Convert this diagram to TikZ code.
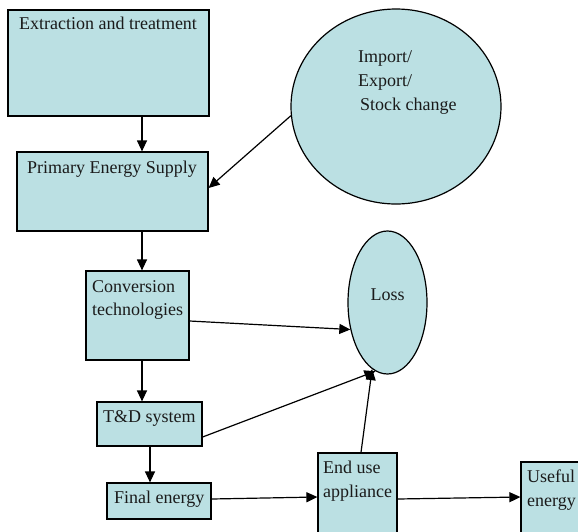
\documentclass[tikz,border=0pt]{standalone}
\usepackage{fontspec}
\setmainfont{Liberation Serif}
\usetikzlibrary{arrows.meta,shapes.geometric}
\definecolor{boxfill}{HTML}{BBE0E3}
\definecolor{txt}{HTML}{1A1A1A}
\tikzset{
  box/.style={draw=black, line width=1.2pt, fill=boxfill, rectangle, inner sep=0pt},
  oval/.style={draw=black, line width=1.2pt, fill=boxfill, ellipse, inner sep=0pt},
  lbl/.style={text=txt, inner sep=0pt, font=\fontsize{18}{22}\selectfont},
  conn/.style={line width=1.2pt, -{Triangle[length=11pt,width=10pt]}}
}
\begin{document}
\begin{tikzpicture}[x=1pt,y=-1pt]
\clip (0,0) rectangle (578,531);
\fill[white] (0,0) rectangle (578,531);
% boxes
\node[box, minimum width=201pt, minimum height=106pt] (ext) at (108.5,63) {};
\node[box, minimum width=191pt, minimum height=79pt] (pes) at (112.5,191.5) {};
\node[box, minimum width=103pt, minimum height=89pt] (conv) at (137.5,315.5) {};
\node[box, minimum width=105pt, minimum height=44pt] (td) at (149.5,424) {};
\node[box, minimum width=104pt, minimum height=36pt] (fin) at (159,501) {};
\node[box, minimum width=79pt, minimum height=92pt] (end) at (357.5,499) {};
\node[box, minimum width=89pt, minimum height=98pt] (use) at (565.5,511) {};
\node[oval, minimum width=210pt, minimum height=195pt] (imp) at (396,106.5) {};
\node[oval, minimum width=79pt, minimum height=143pt] (loss) at (387.5,302.5) {};
% texts
\node[lbl, anchor=base] (t1) at (108,29) {Extraction and treatment};
\node[lbl, anchor=base] (t2) at (112,173) {Primary Energy Supply};
\node[lbl, anchor=base west] (t3a) at (358,62) {Import/};
\node[lbl, anchor=base west] (t3b) at (358,86) {Export/};
\node[lbl, anchor=base west] (t3c) at (360,110) {Stock change};
\node[lbl, anchor=base west] (t4a) at (92,292) {Conversion};
\node[lbl, anchor=base west] (t4b) at (92,315) {technologies};
\node[lbl, anchor=base west] (t5) at (103,422) {T\&D system};
\node[lbl, anchor=base west] (t6) at (114,503) {Final energy};
\node[lbl, anchor=base] (t7) at (387.5,300) {Loss};
\node[lbl, anchor=base west] (t8a) at (323,473) {End use};
\node[lbl, anchor=base west] (t8b) at (323,497) {appliance};
\node[lbl, anchor=base west] (t9a) at (527,482) {Useful};
\node[lbl, anchor=base west] (t9b) at (527,506) {energy};
% connectors
\draw[conn] ([xshift=33.5pt]ext.south) -- ([xshift=29.5pt]pes.north);
\draw[conn] (imp.185) -- ([yshift=3.5pt]pes.east);
\draw[conn] ([xshift=29.5pt]pes.south) -- ([xshift=4.5pt]conv.north);
\draw[conn] ([xshift=4.5pt]conv.south) -- ([xshift=-7.5pt]td.north);
\draw[conn] ([xshift=0.5pt]td.south) -- ([xshift=-9pt]fin.north);
\draw[conn] ([yshift=-5.5pt]conv.east) -- (loss.216);
\draw[conn] ([yshift=-13pt]td.east) -- (loss.260);
\draw[conn] ([xshift=3.5pt]end.north) -- (loss.257);
\draw[conn] ([yshift=2pt]fin.east) -- ([yshift=2pt]end.west);
\draw[conn] (end.east) -- ([yshift=14pt]use.west);
\end{tikzpicture}
\end{document}
